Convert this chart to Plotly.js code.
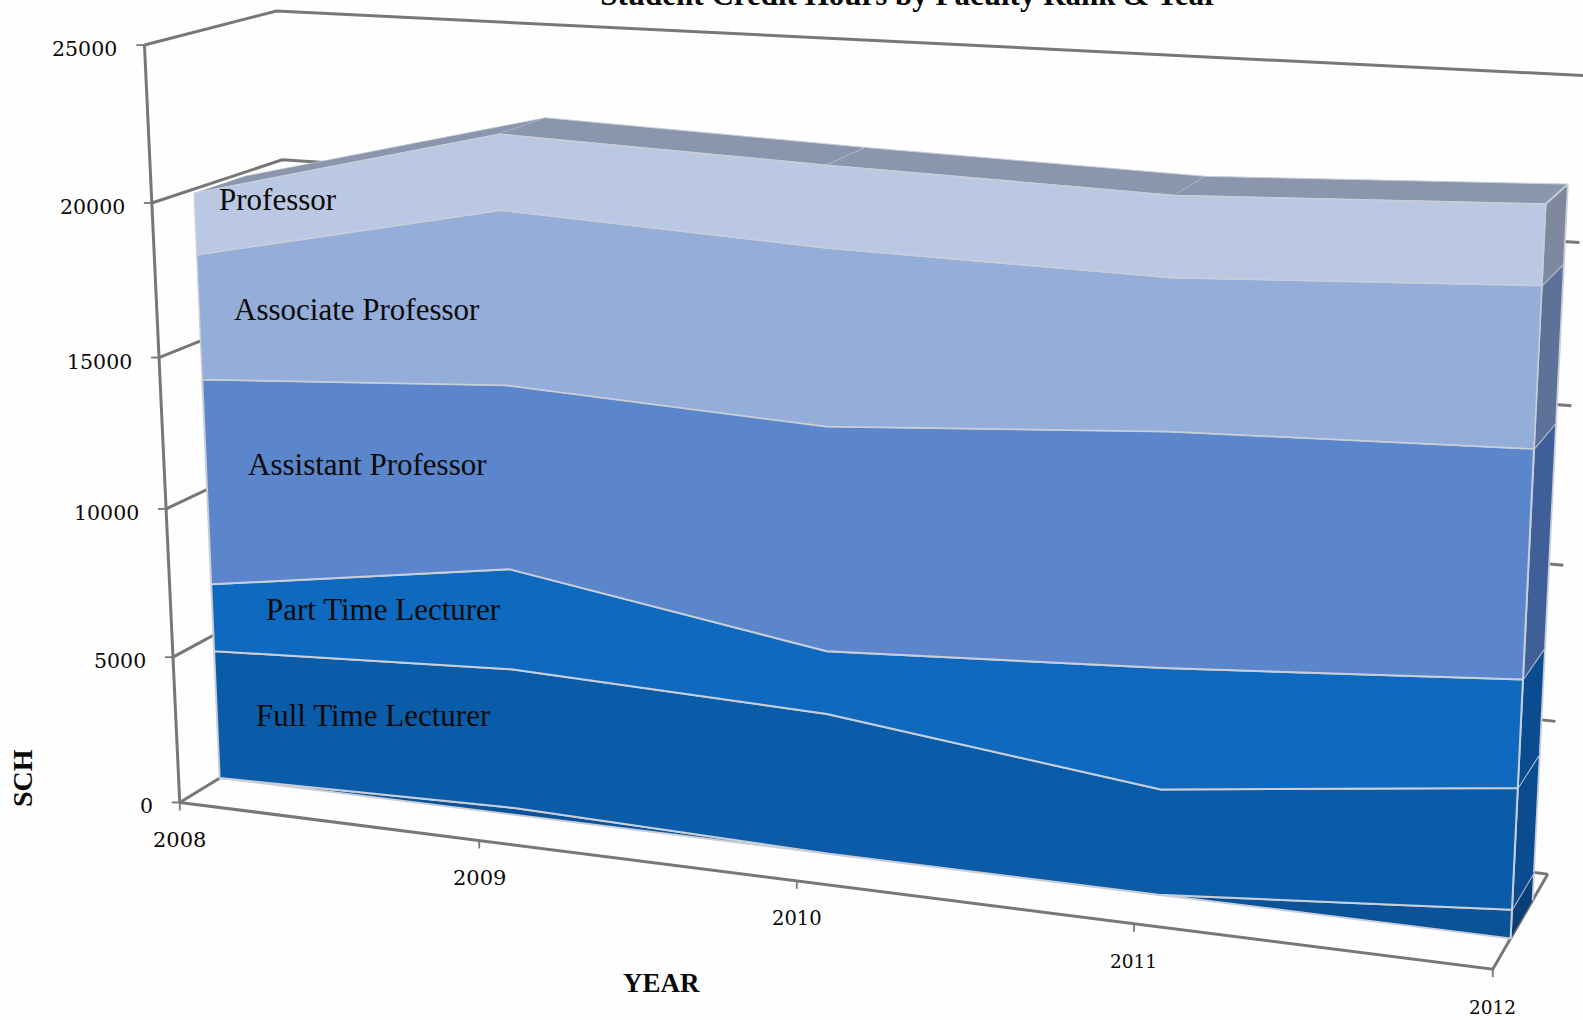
<!DOCTYPE html>
<html>
<head>
<meta charset="utf-8">
<script src="https://cdn.plot.ly/plotly-3.0.1.min.js"></script>
<style>html,body{margin:0;padding:0;background:#fefefe;overflow:hidden}#chart{width:1583px;height:1020px}</style>
</head>
<body>
<div id="chart"></div>
<script>
// ---------- data ----------
const years = ['2008','2009','2010','2011','2012'];
const valueTicks = [0,5000,10000,15000,20000,25000];
const other      = [0,230,0,0,907];
const fullTime   = [4450,4730,4640,3410,3821];
const partTime   = [2310,3360,2057,3876,3353];
const assistant  = [6950,6050,7219,7367,6953];
const associate  = [4135,5610,5576,4658,4790];
const professor  = [2020,2400,2542,2458,2355];
const seriesNames = ['Other','Full Time Lecturer','Part Time Lecturer','Assistant Professor','Associate Professor','Professor'];
const seriesValues = [other,fullTime,partTime,assistant,associate,professor];
const frontColors = ['#0a5299','#0a5ca8','#0f69be','#5b86cb','#95add9','#bbc8e4'];
const sideColors  = ['#083f78','#0a4c8f','#0a4c8f','#3e5f98','#5e7299','#7e899f'];
const topColor = '#8a96ae';
const edgeColor = '#c9ced8';
const wallColor = '#777777';
const inkColor = '#0a0a0a';

// ---------- view calibration: [year index, value, depth] -> page pixel ----------
const D1 = 0.31, D2 = 0.71;
const calib = [
 [0,0,0,179,801],[0,5000,0,173,656],[0,20000,0,152,205],[0,25000,0,143.5,48],
 [0,25000,1,276,11],[0,20000,1,282,159],[4,25000,1,1590,83],[4,20000,1,1581,247],
 [4,5000,1,1556,721],[4,0,1,1548,873],[4,0,0,1492,971],[1,0,0,480,840],[2,0,0,798,882],[3,0,0,1135,926],
 [4,0,D1,1509,939],[4,22029,D1,1543,205],[1,22380,D1,500,134],[2,22034,D1,829,165],[3,21709,D1,1176,195],
 [4,0,D2,1532,900],[4,22029,D2,1566,183],[1,22380,D2,543,117],[2,22034,D2,867,147],[3,21709,D2,1203,176]
];
function solveCamera(pts){
  const n=11, A=Array.from({length:n},()=>new Array(n+1).fill(0));
  const add=(r,b)=>{for(let i=0;i<n;i++){for(let j=0;j<n;j++)A[i][j]+=r[i]*r[j];A[i][n]+=r[i]*b;}};
  pts.forEach(([t,val,d,u,w])=>{
    const X=t/4,Y=val/25000,Z=d,U=u/1000,W=w/1000;
    add([X,Y,Z,1,0,0,0,0,-U*X,-U*Y,-U*Z],U);
    add([0,0,0,0,X,Y,Z,1,-W*X,-W*Y,-W*Z],W);
  });
  for(let c=0;c<n;c++){
    let m=c;for(let r=c+1;r<n;r++)if(Math.abs(A[r][c])>Math.abs(A[m][c]))m=r;
    [A[c],A[m]]=[A[m],A[c]];
    for(let r=0;r<n;r++){if(r===c)continue;const f=A[r][c]/A[c][c];for(let k=c;k<=n;k++)A[r][k]-=f*A[c][k];}
  }
  return A.map((row,i)=>row[n]/row[i]);
}
const P = solveCamera(calib);
function proj(t,val,d){
  const X=t/4,Y=val/25000,Z=d,h=P[8]*X+P[9]*Y+P[10]*Z+1;
  return [1000*(P[0]*X+P[1]*Y+P[2]*Z+P[3])/h,1000*(P[4]*X+P[5]*Y+P[6]*Z+P[7])/h];
}
const tPos = years.map((_,i)=>i);

// ---------- marks ----------
const traces=[];
function poly(pts,color,name,edge,w){
  traces.push({type:'scatter',mode:'lines',x:pts.map(p=>p[0]),y:pts.map(p=>p[1]),name:name,
    fill:'toself',fillcolor:color,line:{color:edge||color,width:w===undefined?1:w},hoverinfo:'skip',showlegend:false});
}
function lines(segs,color,width,name){
  const x=[],y=[];
  segs.forEach(s=>{s.forEach(p=>{x.push(p[0]);y.push(p[1]);});x.push(null);y.push(null);});
  traces.push({type:'scatter',mode:'lines',x,y,name,line:{color,width},hoverinfo:'skip',showlegend:false});
}
// walls, gridlines, axes
const wallSegs=[];
valueTicks.forEach(v=>{
  wallSegs.push([proj(0,v,0),proj(0,v,1),proj(4,v,1)]);
});
wallSegs.push([proj(0,0,0),proj(0,25000,0)]);
wallSegs.push([proj(0,0,0),proj(4,0,0),proj(4,0,1)]);
lines(wallSegs,wallColor,3,'walls');
const tickSegs=[];
valueTicks.forEach(v=>{const p=proj(0,v,0);tickSegs.push([[p[0]-8,p[1]],p]);});
years.forEach((_,i)=>{const p=proj(i,0,0);tickSegs.push([p,[p[0],p[1]+8]]);});
lines(tickSegs,wallColor,1.8,'ticks');

// stacks
const cum=[years.map(()=>0)];
seriesValues.forEach(s=>{const last=cum[cum.length-1];cum.push(s.map((v,i)=>last[i]+v));});
const total=cum[cum.length-1];
// top surface
for(let i=0;i<years.length-1;i++){
  poly([proj(tPos[i],total[i],D1),proj(tPos[i+1],total[i+1],D1),proj(tPos[i+1],total[i+1],D2),proj(tPos[i],total[i],D2)],
       topColor,'top '+years[i],edgeColor,i===0?0.6:1);
}
// right-hand side and front faces
seriesValues.forEach((s,k)=>{
  const lo=cum[k][4],hi=cum[k+1][4];
  poly([proj(4,lo,D1),proj(4,hi,D1),proj(4,hi,D2),proj(4,lo,D2)],sideColors[k],seriesNames[k]+' side',edgeColor,1.8);
});
seriesValues.forEach((s,k)=>{
  const pts=[];
  for(let i=0;i<years.length;i++)pts.push(proj(tPos[i],cum[k+1][i],D1));
  for(let i=years.length-1;i>=0;i--)pts.push(proj(tPos[i],cum[k][i],D1));
  pts.push(pts[0]);
  poly(pts,frontColors[k],seriesNames[k],edgeColor,k<4?2:1.4);
});

// ---------- text ----------
const ann=[];
function label(x,y,text,size,opts){
  ann.push(Object.assign({xref:'x',yref:'y',x,y,text,showarrow:false,xanchor:'center',yanchor:'middle',
    font:{family:'"Liberation Serif",serif',size,color:inkColor}},opts||{}));
}
const num='"DejaVu Serif",serif';
const xSizes=[21,21,19.5,18.5,18.5];
years.forEach((yr,i)=>{const p=proj(i,0,0);label(p[0],p[1]+38,yr,xSizes[i],{font:{family:num,size:xSizes[i],color:inkColor}});});
valueTicks.forEach(v=>{const p=proj(0,v,0);label(p[0]-25,p[1]+4,String(v),20.5,{xanchor:'right',font:{family:num,size:20.5,color:inkColor}});});
label(275*1.0096,198*1.0096,'Professor',31);
label(354*1.0096,307*1.0096,'Associate Professor',31);
label(364*1.0096,460*1.0096,'Assistant Professor',31);
label(380*1.0096,604*1.0096,'Part Time Lecturer',31);
label(370*1.0096,709*1.0096,'Full Time Lecturer',31);
label(661,983,'<b>YEAR</b>',27);
label(22,778,'<b>SCH</b>',28,{textangle:-90});

Plotly.newPlot('chart',traces,{
  width:1583,height:1020,margin:{l:0,r:0,t:0,b:0},autosize:false,
  paper_bgcolor:'#fefefe',plot_bgcolor:'#fefefe',showlegend:false,
  title:{text:'<b>Student Credit Hours by Faculty Rank &amp; Year</b>',x:909/1583,xanchor:'center',y:1,yanchor:'bottom',pad:{b:-5},
         font:{family:'"Liberation Serif",serif',size:31,color:inkColor}},
  xaxis:{range:[0,1583],visible:false,fixedrange:true},
  yaxis:{range:[1020,0],visible:false,fixedrange:true},
  annotations:ann
},{displayModeBar:false,staticPlot:true});
</script>
</body>
</html>
